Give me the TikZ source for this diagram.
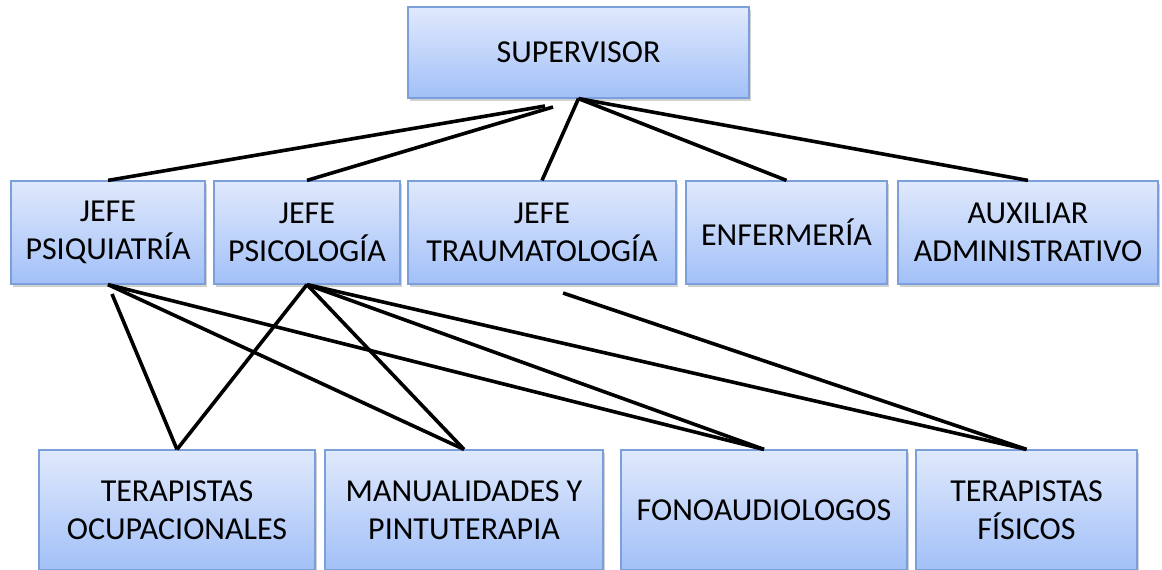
\documentclass[tikz,border=0pt]{standalone}
\usepackage{fontspec}
\setmainfont{Carlito}
\usepackage{tikz}
\usetikzlibrary{shadows}
\definecolor{boxtop}{HTML}{E0E9FC}
\definecolor{boxbot}{HTML}{A2C0F8}
\definecolor{boxline}{HTML}{7A9FDA}

\begin{document}
\begin{tikzpicture}[
    x=0.5pt, y=-0.5pt,
    every node/.style={font=\fontsize{16}{19}\selectfont},
    unit/.style={draw=boxline, line width=0.6pt, top color=boxtop, bottom color=boxbot,
        inner sep=0pt, align=center,
        drop shadow={shadow xshift=1pt, shadow yshift=-1.5pt, opacity=0.3, fill=black!60}},
    link/.style={line width=1.8pt, line join=miter}
]
    \useasboundingbox (0,0) rectangle (1162,569);

    % jefatura
    \node[unit, minimum width=170.5pt, minimum height=45.5pt] (sup) at (578.5,52.5) {SUPERVISOR};

    % segundo nivel
    \node[unit, minimum width=97pt, minimum height=51.5pt] (psiq) at (108,232.5) {JEFE\\PSIQUIATRÍA};
    \node[unit, minimum width=93pt, minimum height=51.5pt] (psic) at (307,232.5) {JEFE\\PSICOLOGÍA};
    \node[unit, minimum width=134pt, minimum height=51.5pt] (trau) at (542,232.5) {JEFE\\TRAUMATOLOGÍA};
    \node[unit, minimum width=100.5pt, minimum height=51.5pt] (enf) at (786.5,232.5) {ENFERMERÍA};
    \node[unit, minimum width=130pt, minimum height=51.5pt] (aux) at (1028,232.5) {AUXILIAR\\ADMINISTRATIVO};

    % terapias
    \node[unit, minimum width=138pt, minimum height=60pt] (ocup) at (177,510) {TERAPISTAS\\OCUPACIONALES};
    \node[unit, minimum width=139pt, minimum height=60pt] (man) at (464,510) {MANUALIDADES Y\\PINTUTERAPIA};
    \node[unit, minimum width=143pt, minimum height=60pt] (fono) at (764,510) {FONOAUDIOLOGOS};
    \node[unit, minimum width=110.5pt, minimum height=60pt] (fis) at (1026.5,510) {TERAPISTAS\\FÍSICOS};

    \coordinate (supA) at (545,106);
    \coordinate (supB) at (553,107);
    \coordinate (psiqB) at (112,294);
    \coordinate (trauB) at (563,293);

    \draw[link] (supA) -- (psiq.north);
    \draw[link] (supB) -- (psic.north);
    \draw[link] (sup.south) -- (trau.north);
    \draw[link] (sup.south) -- (enf.north);
    \draw[link] (sup.south) -- (aux.north);

    \draw[link] (psiqB) -- (ocup.north);
    \draw[link] (psiq.south) -- (man.north);
    \draw[link] (psiq.south) -- (fono.north);
    \draw[link] (psic.south) -- (ocup.north);
    \draw[link] (psic.south) -- (man.north);
    \draw[link] (psic.south) -- (fono.north);
    \draw[link] (psic.south) -- (fis.north);
    \draw[link] (trauB) -- (fis.north);
\end{tikzpicture}
\end{document}
